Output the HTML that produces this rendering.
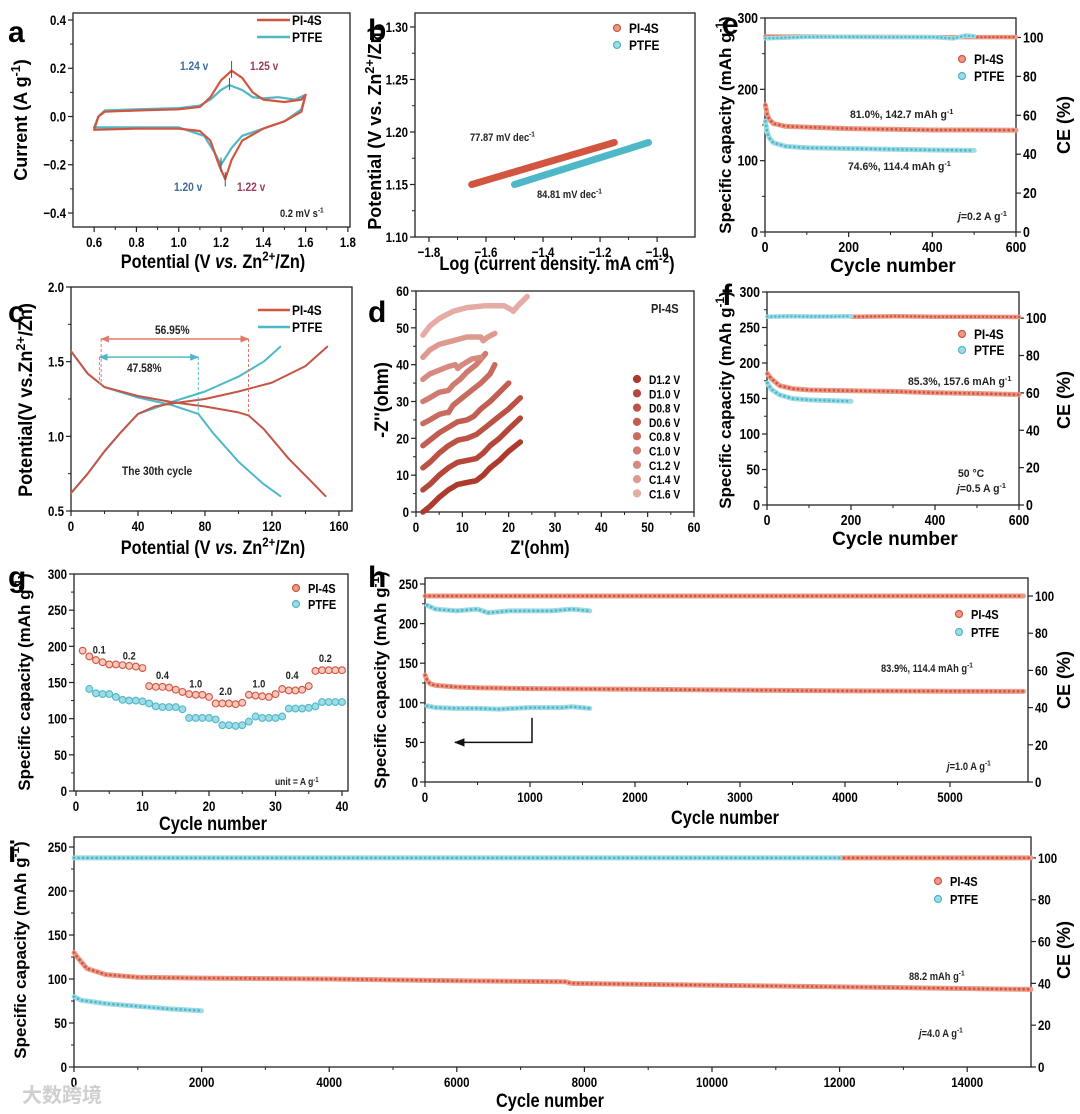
<!DOCTYPE html>
<html><head><meta charset="utf-8">
<style>
html,body{margin:0;padding:0;background:#fff;}
svg{display:block;font-family:"Liberation Sans",sans-serif;font-weight:bold;}
</style></head>
<body>
<svg id="fig" width="1080" height="1114" viewBox="0 0 1080 1114" xmlns="http://www.w3.org/2000/svg">
<defs>
<marker id="arR" viewBox="0 0 10 10" refX="9" refY="5" markerWidth="6" markerHeight="6" orient="auto-start-reverse"><path d="M0,1 L10,5 L0,9 z" fill="#e07a6a"/></marker>
<marker id="arB" viewBox="0 0 10 10" refX="9" refY="5" markerWidth="6" markerHeight="6" orient="auto-start-reverse"><path d="M0,1 L10,5 L0,9 z" fill="#4fb8c8"/></marker>
<marker id="arK" viewBox="0 0 10 10" refX="9" refY="5" markerWidth="7" markerHeight="7" orient="auto-start-reverse"><path d="M0,1 L10,5 L0,9 z" fill="#111"/></marker>
</defs>
</svg>
<script>
// ---------- data ----------
const aXTicks=[0.6,0.8,1.0,1.2,1.4,1.6,1.8];
const aYTicks=[-0.4,-0.2,0.0,0.2,0.4];
const aPiV=[0.6,0.62,0.65,0.8,1.0,1.1,1.15,1.2,1.25,1.3,1.35,1.4,1.5,1.58,1.6,1.58,1.5,1.4,1.3,1.25,1.22,1.19,1.15,1.1,1.0,0.8,0.6,0.6];
const aPiI=[-0.055,0.0,0.02,0.025,0.03,0.04,0.08,0.15,0.19,0.16,0.1,0.07,0.06,0.07,0.09,0.02,-0.02,-0.05,-0.1,-0.18,-0.26,-0.2,-0.1,-0.06,-0.05,-0.05,-0.055,-0.055];
const aPtV=[0.6,0.62,0.65,0.8,1.0,1.1,1.15,1.2,1.24,1.3,1.35,1.4,1.47,1.55,1.6,1.58,1.5,1.4,1.3,1.25,1.2,1.17,1.12,1.0,0.8,0.6];
const aPtI=[-0.045,0.0,0.025,0.03,0.035,0.045,0.07,0.11,0.13,0.11,0.08,0.075,0.08,0.07,0.09,0.03,-0.02,-0.05,-0.08,-0.13,-0.2,-0.15,-0.08,-0.045,-0.045,-0.045];

const bXTicks=[-1.8,-1.6,-1.4,-1.2,-1.0];
const bYTicks=[1.10,1.15,1.20,1.25,1.30];
const bPiX=[-1.65,-1.15], bPiY=[1.150,1.190];
const bPtX=[-1.50,-1.03], bPtY=[1.150,1.190];

const cXTicks=[0,40,80,120,160];
const cYTicks=[0.5,1.0,1.5,2.0];
const cPiDisX=[0,10,20,40,60,80,100,106,115,130,145,152];
const cPiDisY=[1.57,1.42,1.33,1.27,1.23,1.2,1.16,1.14,1.05,0.85,0.68,0.6];
const cPiChX=[0,10,20,30,40,50,60,80,100,120,140,153];
const cPiChY=[0.62,0.75,0.9,1.03,1.15,1.2,1.22,1.25,1.3,1.36,1.47,1.6];
const cPtDisX=[0,10,20,40,60,76,85,100,115,125];
const cPtDisY=[1.57,1.42,1.33,1.26,1.21,1.15,1.02,0.83,0.68,0.6];
const cPtChX=[0,10,20,30,40,50,60,80,100,115,125];
const cPtChY=[0.62,0.75,0.9,1.03,1.15,1.19,1.23,1.3,1.4,1.5,1.6];

const dTicks=[0,10,20,30,40,50,60];
const dLabels=['D1.2 V','D1.0 V','D0.8 V','D0.6 V','C0.8 V','C1.0 V','C1.2 V','C1.4 V','C1.6 V'];
const dX=[
 [1.5,3,5,7,9,11,13,14.5,16,18,20,22.5],
 [1.5,3,5,7,9,11,13,14.5,16,18,20,22.5],
 [1.5,3,5,7,9,11,13,14.5,16,18,20,22.5],
 [1.5,3,5,7,9,11,12.5,14,16,18,20],
 [1.5,3,5,6.5,7,8,10,12,14,16,17],
 [1.5,3,5,7,8,9.5,11,13,15],
 [1.5,3,5,7,8.5,9,10,12,14],
 [1.5,3,5,8,11,14,14.5,15.5,17],
 [1.5,3,5,8,11,15,19,20.5,21,22,24]];
const dY=[
 [0,1.5,4,6,7.5,8,8.5,10,12,14,16.5,19],
 [6,7.5,10,12,13.5,14,14.5,16,18,20,22.5,25.5],
 [12,13.5,16,18,19.5,20,21,22.5,24,26,28,31],
 [18,19.5,21.5,23,24.5,25,26,28,30,32.5,35],
 [24,25,26.5,27,27,29,31,33,35,37.5,40],
 [30,31,32.5,33,34.5,36,38,40,43],
 [36,37.5,38.5,39.5,40,39,40,41.5,42],
 [42,44,45.5,46.5,47.5,47.5,46.5,47.5,48.5],
 [48,50.5,52.5,54.5,55.5,56,56,55,54.5,56,58.5]];

const eXTicks=[0,200,400,600], eYTicks=[0,100,200,300], eCETicks=[0,20,40,60,80,100];
const ePiX=[1,5,10,20,50,100,200,300,400,500,600];
const ePiY=[178,165,158,152,148,147,145,144,143,143,142.7];
const ePtX=[1,5,10,20,50,100,200,300,400,500];
const ePtY=[155,140,132,125,120,118,117,116,115,114.4];
const ePiCEx=[1,100,200,300,400,500,600], ePiCE=[100.5,100.5,100.3,100.3,100.2,100.2,100.2];
const ePtCEx=[1,100,200,300,400,450,480,500], ePtCE=[99.5,100.3,100.3,100.2,100.2,99.5,101,100.6];

const fXTicks=[0,200,400,600], fYTicks=[0,50,100,150,200,250,300], fCETicks=[0,20,40,60,80,100];
const fPiX=[1,10,30,60,100,200,300,400,500,600];
const fPiY=[185,178,168,164,162,161,160,158,157,155.5];
const fPtX=[1,10,30,60,100,150,200];
const fPtY=[172,163,155,150,148,147,146];
const fPiCEx=[200,300,400,500,600], fPiCE=[100.8,101,100.8,100.8,100.6];
const fPtCEx=[1,50,100,150,200], fPtCE=[100.8,101,100.9,100.9,101];

const gXTicks=[0,10,20,30,40], gYTicks=[0,50,100,150,200,250,300];
const gPiX=[1,2,3,4,5,6,7,8,9,10,11,12,13,14,15,16,17,18,19,20,21,22,23,24,25,26,27,28,29,30,31,32,33,34,35,36,37,38,39,40];
const gPiY=[194,186,181,178,175,175,174,173,172,170,145,144,144,143,140,137,134,133,133,130,121,121,121,120,122,133,132,131,130,134,141,139,139,140,145,166,167,167,167,167];
const gPtX=[2,3,4,5,6,7,8,9,10,11,12,13,14,15,16,17,18,19,20,21,22,23,24,25,26,27,28,29,30,31,32,33,34,35,36,37,38,39,40];
const gPtY=[141,135,134,134,130,126,125,125,124,121,117,116,116,116,113,101,101,101,101,99,91,91,90,91,96,103,101,101,101,103,114,114,114,115,117,123,123,123,123];
const gRateLabels=['0.1','0.2','0.4','1.0','2.0','1.0','0.4','0.2'];
const gRateX=[3.5,8,13,18,22.5,27.5,32.5,37.5];
const gRateY=[190,182,155,143,133,143,155,178];

const hXTicks=[0,1000,2000,3000,4000,5000], hYTicks=[0,50,100,150,200,250], hCETicks=[0,20,40,60,80,100];
const hPiX=[1,20,50,100,300,500,1000,2000,3000,4000,5000,5700];
const hPiY=[135,128,124,122,120,119,118,117,116,115,114.6,114.4];
const hPtX=[20,100,300,500,700,1000,1300,1400,1570];
const hPtY=[96,94,93,93,92,94,94,95,93];
const hPiCEx=[1,1000,2000,3000,4000,5000,5700], hPiCE=[100,100,100,100,100,100,100];
const hPtCEx=[20,100,300,500,600,800,1000,1200,1400,1570], hPtCE=[95,93,92,93,91,92,92,92,93,92];

const iXTicks=[0,2000,4000,6000,8000,10000,12000,14000], iYTicks=[0,50,100,150,200,250], iCETicks=[0,20,40,60,80,100];
const iPiX=[1,50,200,500,1000,2000,4000,6000,7700,7800,10000,12000,15000];
const iPiY=[130,125,112,105,102,101,100,98,97,95,93,91,88.2];
const iPtX=[1,100,500,1000,1500,2000];
const iPtY=[80,76,72,69,66,64];
const iPiCEx=[12000,15000], iPiCE=[100,100];
const iPtCEx=[1,3000,6000,9000,12000], iPtCE=[100,100,100,100,100];

// ---------- helpers ----------
const NS='http://www.w3.org/2000/svg';
const svg=document.getElementById('fig');
const RED='#d2553f', REDF='#ec9a88', TEAL='#4fb8c8', TEALF='#9edbe4';
function mk(tag,name,attrs,parent,text){
  const e=document.createElementNS(NS,tag);
  
  
  for(const k in attrs) e.setAttribute(k,attrs[k]);
  if(text!=null) rich(e,text);
  parent.appendChild(e);
  return e;
}
function rich(e,s){
  const re=/(\^\{[^}]*\}|\*[^*]*\*)/g;
  s.split(re).forEach(p=>{
    if(!p) return;
    const t=document.createElementNS(NS,'tspan');
    if(p.startsWith('^{')){t.textContent=p.slice(2,-1);t.setAttribute('baseline-shift','super');t.setAttribute('font-size','70%');}
    else if(p.startsWith('*')){t.textContent=p.slice(1,-1);t.setAttribute('font-style','italic');}
    else t.textContent=p;
    e.appendChild(t);
  });
}
function squeeze(t,s,rot){
  const x=t.getAttribute('x'), y=t.getAttribute('y');
  t.setAttribute('transform','translate('+x+' '+y+')'+(rot?' rotate(-90)':'')+' scale('+s+' 1) translate('+(-x)+' '+(-y)+')');
  return t;
}
function fmt(v,d){return (v<0?'\u2212':'')+Math.abs(v).toFixed(d);}
const TS=0.82;
function panel(id,b,xr,yr,xt,yt,dx,dy,fs){
  fs=fs||14;
  const g=mk('g',id,{},svg);
  const sx=v=>b.x0+(v-xr[0])/(xr[1]-xr[0])*(b.x1-b.x0);
  const sy=v=>b.y1-(v-yr[0])/(yr[1]-yr[0])*(b.y1-b.y0);
  mk('rect',id+'-frame',{x:b.x0,y:b.y0,width:b.x1-b.x0,height:b.y1-b.y0,fill:'none',stroke:'#222','stroke-width':1.3},g);
  xt.forEach((v,i)=>{
    const x=sx(v);
    mk('line',id+'-x-tick',{x1:x,x2:x,y1:b.y1,y2:b.y1+5,stroke:'#222','stroke-width':1.2},g);
    squeeze(mk('text',id+'-x-tick-label',{x:x,y:b.y1+20,'text-anchor':'middle','font-size':fs},g,fmt(v,dx)),TS);
    if(i<xt.length-1){const m=sx((v+xt[i+1])/2);mk('line',id+'-x-minor',{x1:m,x2:m,y1:b.y1,y2:b.y1+3,stroke:'#222'},g);}
  });
  yt.forEach((v,i)=>{
    const y=sy(v);
    mk('line',id+'-y-tick',{x1:b.x0-5,x2:b.x0,y1:y,y2:y,stroke:'#222','stroke-width':1.2},g);
    squeeze(mk('text',id+'-y-tick-label',{x:b.x0-7,y:y+5,'text-anchor':'end','font-size':fs},g,fmt(v,dy)),TS);
    if(i<yt.length-1){const m=sy((v+yt[i+1])/2);mk('line',id+'-y-minor',{x1:b.x0-3,x2:b.x0,y1:m,y2:m,stroke:'#222'},g);}
  });
  return {g,sx,sy,b};
}
function rightAxis(P,id,yr,ticks,fs){
  const b=P.b;
  const sy=v=>b.y1-(v-yr[0])/(yr[1]-yr[0])*(b.y1-b.y0);
  ticks.forEach(v=>{
    const y=sy(v);
    mk('line',id+'-ce-tick',{x1:b.x1,x2:b.x1+5,y1:y,y2:y,stroke:'#222','stroke-width':1.2},P.g);
    squeeze(mk('text',id+'-ce-tick-label',{x:b.x1+7,y:y+5,'font-size':fs||14},P.g,String(v)),TS);
  });
  return sy;
}
function pts(sx,sy,xs,ys){return xs.map((x,i)=>sx(x).toFixed(1)+','+sy(ys[i]).toFixed(1)).join(' ');}
function line(P,name,xs,ys,color,w,sy){
  return mk('polyline',name,{points:pts(P.sx,sy||P.sy,xs,ys),fill:'none',stroke:color,'stroke-width':w||2,'stroke-linejoin':'round','stroke-linecap':'round'},P.g);
}
function dotted(P,name,xs,ys,color,fill,w,sy){
  const s=sy||P.sy;
  mk('polyline',name+'-body',{points:pts(P.sx,s,xs,ys),fill:'none',stroke:fill,'stroke-width':w,'stroke-linejoin':'round','stroke-linecap':'round'},P.g);
  mk('polyline',name,{points:pts(P.sx,s,xs,ys),fill:'none',stroke:color,'stroke-width':w*0.55,'stroke-dasharray':'0 '+(w*0.9).toFixed(1),'stroke-linecap':'round','stroke-linejoin':'round'},P.g);
}
function ytitle(P,name,x,cy,txt,fs,s){
  const t=mk('text',name,{x:x,y:cy,'text-anchor':'middle','font-size':fs||18},P.g,txt);
  return squeeze(t,s||1,true);
}
function xtitle(P,name,cx,y,txt,fs,s){
  const t=mk('text',name,{x:cx,y:y,'text-anchor':'middle','font-size':fs||19},P.g,txt);
  return squeeze(t,s||1,false);
}
function label(P,name,x,y,txt,fs,fill,extra,s){
  const a={x:x,y:y,'font-size':fs||11,fill:fill||'#222'};
  for(const k in (extra||{})) a[k]=extra[k];
  return squeeze(mk('text',name,a,P.g,txt),s||0.85);
}
function legendDot(P,name,x,y,color,fill,txt,fs){
  mk('circle',name+'-marker',{cx:x,cy:y,r:3.5,fill:fill,stroke:color,'stroke-width':1.2},P.g);
  squeeze(mk('text',name+'-label',{x:x+12,y:y+5,'font-size':fs||13},P.g,txt),0.85);
}
function letter(ch,x,y){mk('text','panel-letter-'+ch,{x:x,y:y,'font-size':30},svg,ch);}
const NT=0.86;

// ---------- panel a ----------
const A=panel('panel-a',{x0:73,x1:350,y0:13,y1:227},[0.5,1.81],[-0.458,0.429],aXTicks,aYTicks,1,1);
line(A,'cv-ptfe',aPtV,aPtI,TEAL,2.2);
line(A,'cv-pi4s',aPiV,aPiI,RED,2.2);
[[1.25,0.16,0.23],[1.24,0.11,0.16],[1.2,-0.17,-0.23],[1.22,-0.23,-0.29]].forEach(p=>{
  mk('line','cv-peak-marker',{x1:A.sx(p[0]),x2:A.sx(p[0]),y1:A.sy(p[1]),y2:A.sy(p[2]),stroke:'#555','stroke-width':1},A.g);
});
mk('line','legend-pi4s-line',{x1:257,x2:290,y1:20,y2:20,stroke:RED,'stroke-width':2.5},A.g);
squeeze(mk('text','legend-pi4s-label',{x:292,y:25,'font-size':14},A.g,'PI-4S'),0.85);
mk('line','legend-ptfe-line',{x1:257,x2:290,y1:37,y2:37,stroke:TEAL,'stroke-width':2.5},A.g);
squeeze(mk('text','legend-ptfe-label',{x:292,y:42,'font-size':14},A.g,'PTFE'),0.85);
label(A,'peak-label-1-24',180,70,'1.24 v',12,'#3e6b98');
label(A,'peak-label-1-25',250,70,'1.25 v',12,'#9a3d5d');
label(A,'peak-label-1-20',174,191,'1.20 v',12,'#3e6b98');
label(A,'peak-label-1-22',237,191,'1.22 v',12,'#9a3d5d');
label(A,'scan-rate-label',280,217,'0.2 mV s^{-1}',11);
ytitle(A,'y-axis-title-a',27,120,'Current (A g^{-1})',18,1);
xtitle(A,'x-axis-title-a',213,268,'Potential (V *vs.* Zn^{2+}/Zn)',19,NT);
letter('a',8,42);

// ---------- panel b ----------
const B=panel('panel-b',{x0:415,x1:695,y0:13,y1:237},[-1.849,-0.867],[1.10,1.3133],bXTicks,bYTicks,1,2);
line(B,'tafel-pi4s',bPiX,bPiY,RED,7);
line(B,'tafel-ptfe',bPtX,bPtY,TEAL,7);
legendDot(B,'legend-b-pi4s',617,28,RED,REDF,'PI-4S',14);
legendDot(B,'legend-b-ptfe',617,45,TEAL,TEALF,'PTFE',14);
label(B,'slope-label-pi4s',470,141,'77.87 mV dec^{-1}',11);
label(B,'slope-label-ptfe',537,198,'84.81 mV dec^{-1}',11);
ytitle(B,'y-axis-title-b',381,128,'Potential (V vs. Zn^{2+}/Zn)',18,1);
xtitle(B,'x-axis-title-b',557,270,'Log (current density. mA cm^{-2})',19,NT);
letter('b',368,40);

// ---------- panel c ----------
const C=panel('panel-c',{x0:71,x1:352,y0:287,y1:511},[0,167.8],[0.5,2.0],cXTicks,cYTicks,0,1);
line(C,'gcd-ptfe-discharge',cPtDisX,cPtDisY,TEAL,2);
line(C,'gcd-ptfe-charge',cPtChX,cPtChY,TEAL,2);
line(C,'gcd-pi4s-discharge',cPiDisX,cPiDisY,'#c45545',2);
line(C,'gcd-pi4s-charge',cPiChX,cPiChY,'#c45545',2);
mk('line','capacity-arrow-pi4s',{x1:C.sx(18),x2:C.sx(106),y1:C.sy(1.652),y2:C.sy(1.652),stroke:'#e07a6a','stroke-width':1.5,'marker-start':'url(#arR)','marker-end':'url(#arR)'},C.g);
mk('line','capacity-arrow-ptfe',{x1:C.sx(17),x2:C.sx(76),y1:C.sy(1.53),y2:C.sy(1.53),stroke:TEAL,'stroke-width':1.5,'marker-start':'url(#arB)','marker-end':'url(#arB)'},C.g);
[[18,1.652,1.34,'#e07a6a'],[106,1.652,1.14,'#e07a6a'],[17,1.53,1.35,TEAL],[76,1.53,1.15,TEAL]].forEach(p=>{
  mk('line','dashed-guide',{x1:C.sx(p[0]),x2:C.sx(p[0]),y1:C.sy(p[1]),y2:C.sy(p[2]),stroke:p[3],'stroke-width':1,'stroke-dasharray':'3 2'},C.g);
});
label(C,'pi4s-capacity-percent',155,334,'56.95%',12);
label(C,'ptfe-capacity-percent',127,372,'47.58%',12);
label(C,'cycle-label',122,475,'The 30th cycle',12);
mk('line','legend-c-pi4s-line',{x1:258,x2:290,y1:310,y2:310,stroke:RED,'stroke-width':2.5},C.g);
squeeze(mk('text','legend-c-pi4s-label',{x:292,y:315,'font-size':14},C.g,'PI-4S'),0.85);
mk('line','legend-c-ptfe-line',{x1:258,x2:290,y1:327,y2:327,stroke:TEAL,'stroke-width':2.5},C.g);
squeeze(mk('text','legend-c-ptfe-label',{x:292,y:332,'font-size':14},C.g,'PTFE'),0.85);
ytitle(C,'y-axis-title-c',32,400,'Potential(V vs.Zn^{2+}/Zn)',19,0.95);
xtitle(C,'x-axis-title-c',213,554,'Potential (V *vs.* Zn^{2+}/Zn)',19,NT);
letter('c',8,322);

// ---------- panel d ----------
const D=panel('panel-d',{x0:416,x1:694,y0:291,y1:512},[0,60],[0,60],dTicks,dTicks,0,0);
const dColors=['#ad3a2c','#b4463a','#bb5245','#c25e51','#c96c60','#d07b70','#d78a80','#de9a91','#e5aba4'];
dX.forEach((xs,k)=>{
  dotted(D,'nyquist-'+dLabels[k].replace(/[ .]/g,'').toLowerCase(),xs,dY[k],dColors[k],dColors[k],5.5);
  legendDot(D,'legend-d-'+k,637,379+k*14.3,dColors[k],dColors[k],dLabels[k],12);
});
label(D,'panel-d-sample-label',651,313,'PI-4S',13);
ytitle(D,'y-axis-title-d',388,400,"-Z''(ohm)",19,0.95);
xtitle(D,'x-axis-title-d',540,554,"Z'(ohm)",19,NT);
letter('d',368,322);

// ---------- panel e ----------
const E=panel('panel-e',{x0:765,x1:1016,y0:18,y1:232},[0,600],[0,300],eXTicks,eYTicks,0,0,15);
const eCE=rightAxis(E,'panel-e',[0,110],eCETicks,15);
dotted(E,'ce-pi4s-e',ePiCEx,ePiCE,RED,REDF,4.5,eCE);
dotted(E,'ce-ptfe-e',ePtCEx,ePtCE,TEAL,TEALF,4.5,eCE);
dotted(E,'capacity-pi4s-e',ePiX,ePiY,RED,REDF,5);
dotted(E,'capacity-ptfe-e',ePtX,ePtY,TEAL,TEALF,5);
legendDot(E,'legend-e-pi4s',962,59,RED,REDF,'PI-4S',14);
legendDot(E,'legend-e-ptfe',962,76,TEAL,TEALF,'PTFE',14);
label(E,'retention-label-pi4s-e',850,118,'81.0%, 142.7 mAh g^{-1}',11,'#222',{},0.95);
label(E,'retention-label-ptfe-e',848,170,'74.6%, 114.4 mAh g^{-1}',11,'#222',{},0.95);
label(E,'current-density-e',958,220,'*j*=0.2 A g^{-1}',11,'#222',{},0.95);
ytitle(E,'y-axis-title-e',731,125,'Specific capacity (mAh g^{-1})',17,1);
ytitle(E,'ce-axis-title-e',1070,125,'CE (%)',18,1);
xtitle(E,'x-axis-title-e',893,272,'Cycle number',19,1);
letter('e',722,34);

// ---------- panel f ----------
const F=panel('panel-f',{x0:767,x1:1019,y0:292,y1:505},[0,600],[0,300],fXTicks,fYTicks,0,0,15);
const fCE=rightAxis(F,'panel-f',[0,114],fCETicks,15);
dotted(F,'ce-pi4s-f',fPiCEx,fPiCE,RED,REDF,4.5,fCE);
dotted(F,'ce-ptfe-f',fPtCEx,fPtCE,TEAL,TEALF,4.5,fCE);
dotted(F,'capacity-pi4s-f',fPiX,fPiY,RED,REDF,5);
dotted(F,'capacity-ptfe-f',fPtX,fPtY,TEAL,TEALF,5);
legendDot(F,'legend-f-pi4s',962,334,RED,REDF,'PI-4S',14);
legendDot(F,'legend-f-ptfe',962,350,TEAL,TEALF,'PTFE',14);
label(F,'retention-label-pi4s-f',908,385,'85.3%, 157.6 mAh g^{-1}',11,'#222',{},0.95);
label(F,'temperature-label-f',958,477,'50 °C',11,'#222',{},0.95);
label(F,'current-density-f',957,492,'*j*=0.5 A g^{-1}',11,'#222',{},0.95);
ytitle(F,'y-axis-title-f',731,400,'Specific capacity (mAh g^{-1})',17,1);
ytitle(F,'ce-axis-title-f',1070,400,'CE (%)',18,1);
xtitle(F,'x-axis-title-f',895,545,'Cycle number',19,1);
letter('f',722,305);

// ---------- panel g ----------
const G=panel('panel-g',{x0:74,x1:348,y0:574,y1:791},[-0.3,40.9],[0,300],gXTicks,gYTicks,0,0);
gPtX.forEach((x,i)=>{
  mk('circle','rate-ptfe-point',{cx:G.sx(x),cy:G.sy(gPtY[i]),r:3.4,fill:TEALF,stroke:TEAL,'stroke-width':1.1},G.g);
});
gPiX.forEach((x,i)=>{
  mk('circle','rate-pi4s-point',{cx:G.sx(x),cy:G.sy(gPiY[i]),r:3.4,fill:'#f6c9bf',stroke:RED,'stroke-width':1.1},G.g);
});
gRateLabels.forEach((t,i)=>{
  label(G,'rate-label',G.sx(gRateX[i]),G.sy(gRateY[i]),t,11,'#222',{'text-anchor':'middle'});
});
legendDot(G,'legend-g-pi4s',296,588,RED,REDF,'PI-4S',13);
legendDot(G,'legend-g-ptfe',296,604,TEAL,TEALF,'PTFE',13);
label(G,'unit-label-g',275,785,'unit = A g^{-1}',10);
ytitle(G,'y-axis-title-g',30,682,'Specific capacity (mAh g^{-1})',17,1);
xtitle(G,'x-axis-title-g',213,830,'Cycle number',19,NT);
letter('g',8,587);

// ---------- panel h ----------
const H=panel('panel-h',{x0:425,x1:1028,y0:578,y1:782},[0,5743],[0,257.6],hXTicks,hYTicks,0,0);
const hCE=rightAxis(H,'panel-h',[0,109.7],hCETicks,14);
dotted(H,'ce-pi4s-h',hPiCEx,hPiCE,RED,REDF,5,hCE);
dotted(H,'ce-ptfe-h',hPtCEx,hPtCE,TEAL,TEALF,5,hCE);
dotted(H,'capacity-pi4s-h',hPiX,hPiY,RED,REDF,5);
dotted(H,'capacity-ptfe-h',hPtX,hPtY,TEAL,TEALF,5);
mk('polyline','axis-indicator-arrow',{points:H.sx(1019)+','+H.sy(81)+' '+H.sx(1019)+','+H.sy(50)+' '+H.sx(286)+','+H.sy(50),fill:'none',stroke:'#111','stroke-width':1.5,'marker-end':'url(#arK)'},H.g);
legendDot(H,'legend-h-pi4s',959,614,RED,REDF,'PI-4S',13);
legendDot(H,'legend-h-ptfe',959,632,TEAL,TEALF,'PTFE',13);
label(H,'retention-label-h',881,672,'83.9%, 114.4 mAh g^{-1}',11);
label(H,'current-density-h',947,770,'*j*=1.0 A g^{-1}',11);
ytitle(H,'y-axis-title-h',386,680,'Specific capacity (mAh g^{-1})',17,1);
ytitle(H,'ce-axis-title-h',1070,680,'CE (%)',18,1);
xtitle(H,'x-axis-title-h',725,824,'Cycle number',19,NT);
letter('h',368,587);

// ---------- panel i ----------
const I=panel('panel-i',{x0:74,x1:1031,y0:837,y1:1067},[0,15000],[0,261.4],iXTicks,iYTicks,0,0);
const iCE=rightAxis(I,'panel-i',[0,110],iCETicks,14);
dotted(I,'ce-pi4s-i',iPiCEx,iPiCE,RED,REDF,5,iCE);
dotted(I,'ce-ptfe-i',iPtCEx,iPtCE,TEAL,TEALF,5,iCE);
dotted(I,'capacity-pi4s-i',iPiX,iPiY,RED,REDF,5);
dotted(I,'capacity-ptfe-i',iPtX,iPtY,TEAL,TEALF,5);
legendDot(I,'legend-i-pi4s',938,881,RED,REDF,'PI-4S',13);
legendDot(I,'legend-i-ptfe',938,899,TEAL,TEALF,'PTFE',13);
label(I,'capacity-label-i',909,980,'88.2 mAh g^{-1}',11);
label(I,'current-density-i',919,1037,'*j*=4.0 A g^{-1}',11);
ytitle(I,'y-axis-title-i',26,950,'Specific capacity (mAh g^{-1})',17,1);
ytitle(I,'ce-axis-title-i',1070,950,'CE (%)',18,1);
xtitle(I,'x-axis-title-i',550,1107,'Cycle number',19,NT);
letter('i',8,862);

mk('text','watermark',{x:22,y:1102,'font-size':20,fill:'#cfcfcf','font-family':'"Liberation Sans","Noto Sans CJK SC",sans-serif'},svg,'大数跨境');
</script>
</body></html>
